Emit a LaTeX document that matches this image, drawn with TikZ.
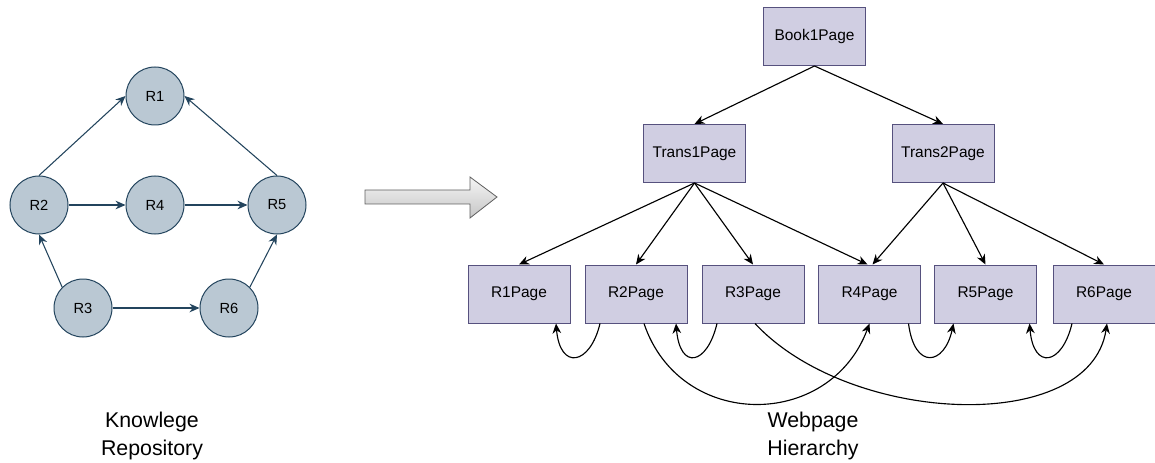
\documentclass[tikz,border=0pt]{standalone}
\usepackage{fontspec}
\setmainfont{Liberation Sans}
\usetikzlibrary{arrows.meta,calc}
\definecolor{repofill}{HTML}{BAC8D3}
\definecolor{repoline}{HTML}{23445D}
\definecolor{pagefill}{HTML}{D0CEE2}
\definecolor{pageline}{HTML}{56517E}
\begin{document}
\begin{tikzpicture}[x=0.75pt,y=-0.75pt,
  res/.style={circle,draw=repoline,fill=repofill,line width=0.75pt,minimum size=43.5pt,inner sep=0pt,font=\fontsize{11}{12}\selectfont},
  page/.style={rectangle,draw=pageline,fill=pagefill,line width=0.75pt,minimum width=76.5pt,minimum height=43.5pt,inner sep=0pt,font=\fontsize{11.6}{13}\selectfont},
  rlink/.style={draw=repoline,line width=0.8pt,-{Stealth[length=7.5pt,width=6.5pt]}},
  plink/.style={draw=black,line width=0.85pt,-{Stealth[length=7.5pt,width=6.5pt]}},
  caption/.style={align=center,font=\fontsize{16}{20.3}\selectfont}]
\useasboundingbox (0,0) rectangle (1155,463);
%repository
\node[res] (R1) at (155,96) {R1};
\node[res] (R2) at (39,205) {R2};
\node[res] (R4) at (155,205) {R4};
\node[res] (R5) at (277,205) {R5};
\node[res] (R3) at (83,308) {R3};
\node[res] (R6) at (229,308) {R6};
\draw[rlink] (R2.north)--(R1.west);
\draw[rlink] (R5.north)--(R1.east);
\draw[rlink] (R2)--(R4);
\draw[rlink] (R4)--(R5);
\draw[rlink] (R3.135)--(R2.south);
\draw[rlink] (R3)--(R6);
\draw[rlink] (R6.45)--(R5.south);
%
\draw[draw=gray!75!black,top color=gray!8,bottom color=gray!45,line width=0.6pt]
  (365,190)--(470,190)--(470,177)--(497,197)--(470,218)--(470,204)--(365,204)--cycle;
%hierarchy
\node[page] (book) at (814.5,36.5) {Book1Page};
\node[page] (tr1) at (694.5,153.5) {Trans1Page};
\node[page] (tr2) at (943,153.5) {Trans2Page};
\node[page] (p1) at (519,294) {R1Page};
\node[page] (p2) at (636,294) {R2Page};
\node[page] (p3) at (753,294) {R3Page};
\node[page] (p4) at (869.5,294) {R4Page};
\node[page] (p5) at (985.5,294) {R5Page};
\node[page] (p6) at (1104,294) {R6Page};
\draw[plink] (book.south)--(tr1.north);
\draw[plink] (book.south)--(tr2.north);
\foreach \p in {p1,p2,p3} \draw[plink] (tr1.south)--(\p.north);
\draw[plink] (tr1.south)--($(p4.north)+(-2,0)$);
\draw[plink] (tr2.south)--($(p4.north)+(3,0)$);
\foreach \p in {p5,p6} \draw[plink] (tr2.south)--(\p.north);
%links between pages
\draw[plink] ($(p2.south)+(-36,0)$) .. controls ($(p2.south)+(-46,42)$) and ($(p1.south)+(41,47)$) .. ($(p1.south)+(37,0)$);
\draw[plink] ($(p3.south)+(-36,0)$) .. controls ($(p3.south)+(-46,42)$) and ($(p2.south)+(44,47)$) .. ($(p2.south)+(40,0)$);
\draw[plink] ($(p4.south)+(39,0)$) .. controls ($(p4.south)+(45,47)$) and ($(p5.south)+(-41,42)$) .. ($(p5.south)+(-32,0)$);
\draw[plink] ($(p6.south)+(-32,0)$) .. controls ($(p6.south)+(-42,42)$) and ($(p5.south)+(48,47)$) .. ($(p5.south)+(44,0)$);
\draw[plink] ($(p2.south)+(8,0)$) .. controls ($(p2.south)+(44,107)$) and ($(p4.south)+(-40,107)$) .. (p4.south);
\draw[plink] ($(p3.south)+(2,0)$) .. controls ($(p3.south)+(97,102)$) and ($(p6.south)+(-14,112)$) .. ($(p6.south)+(3,0)$);
%text
\node[caption] (repo) at (152,436) {Knowlege\\Repository};
\node[caption] (web) at (813,436) {Webpage\\Hierarchy};
\end{tikzpicture}
\end{document}
